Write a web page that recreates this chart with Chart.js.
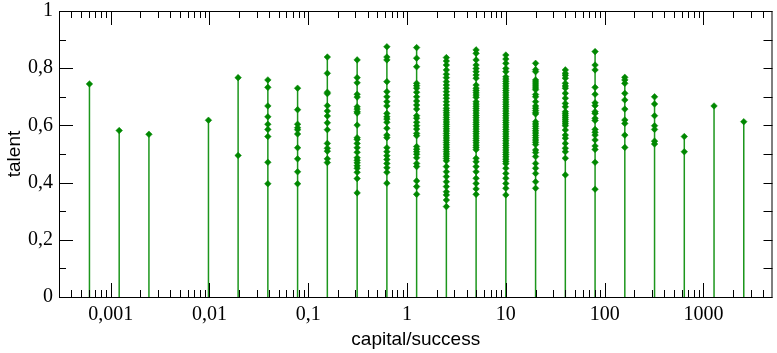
<!DOCTYPE html>
<html>
<head>
<meta charset="utf-8">
<script src="https://cdn.jsdelivr.net/npm/chart.js@4/dist/chart.umd.min.js"></script>
<style>
    body { margin: 0; background: #fff; }
</style>
</head>
<body>
<canvas id="talentChart" width="777" height="353"></canvas>
<script>
// capital values (doubling steps) where agents sit
const capital = [
    0.00061, 0.00122, 0.00244, 0.00977, 0.0195, 0.039, 0.078, 0.156,
    0.3125, 0.625, 1.25, 2.5, 5, 10, 20, 40, 80, 160, 320, 640, 1280, 2560,
]

// talent of each agent, one list per capital value
const talent = [
    [0.745],
    [0.582],
    [0.569],
    [0.618],
    [0.767, 0.495],
    [0.759, 0.733, 0.668, 0.630, 0.604, 0.586, 0.561, 0.471, 0.396],
    [0.730, 0.655, 0.604, 0.592, 0.585, 0.570, 0.522, 0.483, 0.438, 0.396],
    [0.839, 0.782, 0.716, 0.711, 0.669, 0.650, 0.633, 0.609, 0.585, 0.537,
        0.520, 0.510, 0.483, 0.470],
    [0.829, 0.767, 0.749, 0.709, 0.699, 0.665, 0.657, 0.648, 0.643, 0.601,
        0.557, 0.551, 0.537, 0.522, 0.506, 0.487, 0.478, 0.469, 0.459, 0.450,
        0.436, 0.414, 0.364],
    [0.875, 0.839, 0.829, 0.753, 0.718, 0.700, 0.683, 0.668, 0.642, 0.630,
        0.622, 0.611, 0.590, 0.566, 0.557, 0.522, 0.508, 0.494, 0.481, 0.467,
        0.452, 0.436, 0.398],
    [0.872, 0.835, 0.805, 0.747, 0.739, 0.730, 0.716, 0.700, 0.685, 0.671,
        0.657, 0.634, 0.625, 0.611, 0.599, 0.587, 0.572, 0.564, 0.526, 0.517,
        0.508, 0.499, 0.487, 0.467, 0.456, 0.406, 0.386, 0.359],
    [0.837, 0.825, 0.811, 0.794, 0.779, 0.767, 0.753, 0.741, 0.730, 0.718,
        0.706, 0.695, 0.683, 0.671, 0.660, 0.652, 0.644, 0.636, 0.628, 0.620,
        0.612, 0.604, 0.596, 0.588, 0.580, 0.572, 0.564, 0.556, 0.548, 0.540,
        0.532, 0.524, 0.516, 0.508, 0.500, 0.492, 0.484, 0.476, 0.456, 0.438,
        0.421, 0.403, 0.386, 0.368, 0.357, 0.339, 0.316],
    [0.864, 0.852, 0.829, 0.811, 0.799, 0.788, 0.776, 0.765, 0.741, 0.730,
        0.722, 0.714, 0.706, 0.698, 0.683, 0.675, 0.667, 0.659, 0.651, 0.643,
        0.635, 0.627, 0.619, 0.611, 0.603, 0.595, 0.587, 0.579, 0.571, 0.563,
        0.555, 0.547, 0.539, 0.531, 0.523, 0.515, 0.485, 0.473, 0.456, 0.438,
        0.415, 0.397, 0.378, 0.359],
    [0.846, 0.832, 0.817, 0.799, 0.788, 0.770, 0.762, 0.754, 0.746, 0.738,
        0.730, 0.722, 0.714, 0.706, 0.698, 0.690, 0.682, 0.674, 0.666, 0.658,
        0.650, 0.642, 0.634, 0.626, 0.618, 0.610, 0.602, 0.594, 0.586, 0.578,
        0.570, 0.562, 0.554, 0.546, 0.538, 0.530, 0.522, 0.514, 0.506, 0.498,
        0.490, 0.482, 0.474, 0.466, 0.450, 0.432, 0.415, 0.397, 0.380, 0.357],
    [0.817, 0.795, 0.788, 0.759, 0.752, 0.745, 0.738, 0.731, 0.725, 0.708,
        0.700, 0.683, 0.668, 0.660, 0.652, 0.645, 0.640, 0.613, 0.605, 0.597,
        0.589, 0.581, 0.573, 0.565, 0.557, 0.549, 0.541, 0.533, 0.514, 0.505,
        0.491, 0.467, 0.450, 0.432, 0.403, 0.380],
    [0.794, 0.782, 0.775, 0.765, 0.747, 0.738, 0.730, 0.712, 0.695, 0.677,
        0.665, 0.648, 0.641, 0.634, 0.627, 0.620, 0.613, 0.606, 0.599, 0.584,
        0.566, 0.555, 0.537, 0.520, 0.508, 0.485, 0.427],
    [0.858, 0.811, 0.794, 0.733, 0.709, 0.679, 0.669, 0.648, 0.642, 0.625,
        0.617, 0.586, 0.576, 0.566, 0.549, 0.528, 0.516, 0.471, 0.377],
    [0.768, 0.759, 0.747, 0.712, 0.689, 0.657, 0.619, 0.607, 0.566, 0.523],
    [0.700, 0.675, 0.634, 0.599, 0.586, 0.545, 0.535],
    [0.561, 0.508],
    [0.668],
    [0.613],
]

// axis ticks
const xTickValues = [0.001, 0.01, 0.1, 1, 10, 100, 1000]
const xTickLabels = ["0,001", "0,01", "0,1", "1", "10", "100", "1000"]
const yTickValues = [0, 0.2, 0.4, 0.6, 0.8, 1]
const yTickLabels = ["0", "0,2", "0,4", "0,6", "0,8", "1"]
const yMinorTicks = [0.1, 0.3, 0.5, 0.7, 0.9]

const X_MIN = 0.0003
const X_MAX = 5000

// minor ticks 2..9 in every decade, inside the axis range
const xMinorTicks = []
for (const d of [0.0001, 0.001, 0.01, 0.1, 1, 10, 100, 1000]) {
    for (let m = 2; m <= 9; m++) {
        const v = m * d
        if (v > X_MIN && v < X_MAX) xMinorTicks.push(v)
    }
}

// one point per agent
const points = []
capital.forEach((c, i) => {
    talent[i].forEach((t) => points.push({ x: c, y: t }))
})

// drop lines from 0 up to the highest talent at each capital
const stems = []
capital.forEach((c, i) => {
    stems.push({ x: c, y: 0 })
    stems.push({ x: c, y: Math.max(...talent[i]) })
    stems.push({ x: c, y: null })
})

// frame and inward ticks on all four sides
const frameTicks = {
    id: "frameTicks",
    afterDraw(chart) {
        const { ctx, chartArea: a, scales } = chart
        const xs = scales.x
        const ys = scales.y
        ctx.save()
        ctx.strokeStyle = "#000"
        ctx.lineWidth = 1
        ctx.beginPath()
        const line = (x1, y1, x2, y2) => {
            ctx.moveTo(x1, y1)
            ctx.lineTo(x2, y2)
        }
        xTickValues.forEach((v) => {
            const px = Math.round(xs.getPixelForValue(v)) + 0.5
            line(px, a.bottom, px, a.bottom - 14)
            line(px, a.top, px, a.top + 14)
        })
        xMinorTicks.forEach((v) => {
            const px = Math.round(xs.getPixelForValue(v)) + 0.5
            line(px, a.bottom, px, a.bottom - 7)
            line(px, a.top, px, a.top + 7)
        })
        yTickValues.forEach((v) => {
            const py = Math.round(ys.getPixelForValue(v)) + 0.5
            line(a.left, py, a.left + 14, py)
            line(a.right, py, a.right - 9, py)
        })
        yMinorTicks.forEach((v) => {
            const py = Math.round(ys.getPixelForValue(v)) + 0.5
            line(a.left, py, a.left + 7, py)
            line(a.right, py, a.right - 9, py)
        })
        ctx.stroke()
        ctx.strokeRect(a.left + 0.5, a.top + 0.5, a.right - a.left - 1, a.bottom - a.top)
        ctx.restore()
    },
}

const serif = { family: "'Liberation Serif', 'DejaVu Serif', serif", size: 20 }
const sans = { family: "'Liberation Sans', Arial, sans-serif", size: 19 }

new Chart(document.getElementById("talentChart"), {
    type: "scatter",
    data: {
        datasets: [
            {
                data: points,
                pointStyle: "rectRot",
                pointRadius: 3.3,
                backgroundColor: "#008800",
                borderColor: "#008800",
                borderWidth: 0.5,
                order: 0,
            },
            {
                data: stems,
                showLine: true,
                spanGaps: false,
                pointRadius: 0,
                borderColor: "#1c961c",
                borderWidth: 1.5,
                order: 1,
            },
        ],
    },
    options: {
        responsive: false,
        animation: false,
        layout: { padding: { top: 11, right: 2, left: 0, bottom: 0 } },
        plugins: {
            legend: { display: false },
            tooltip: { enabled: false },
        },
        scales: {
            x: {
                type: "logarithmic",
                min: X_MIN,
                max: X_MAX,
                grid: { display: false, drawTicks: false },
                border: { display: false },
                afterBuildTicks: (s) => {
                    s.ticks = xTickValues.map((v) => ({ value: v }))
                },
                afterFit: (s) => {
                    s.height = 56
                    s.paddingLeft = 0
                    s.paddingRight = 0
                },
                ticks: {
                    autoSkip: false,
                    maxRotation: 0,
                    padding: 6,
                    color: "#000",
                    font: serif,
                    callback: (v, i) => xTickLabels[i],
                },
                title: {
                    display: true,
                    text: "capital/success",
                    color: "#000",
                    font: sans,
                    padding: { top: 0, bottom: 2 },
                },
            },
            y: {
                min: 0,
                max: 1,
                grid: { display: false, drawTicks: false },
                border: { display: false },
                afterBuildTicks: (s) => {
                    s.ticks = yTickValues.map((v) => ({ value: v }))
                },
                afterFit: (s) => {
                    s.width = 59
                    s.paddingTop = 0
                    s.paddingBottom = 0
                },
                ticks: {
                    padding: 6,
                    color: "#000",
                    font: serif,
                    callback: (v, i) => yTickLabels[i],
                },
                title: {
                    display: true,
                    text: "talent",
                    color: "#000",
                    font: sans,
                    padding: { top: 3, bottom: 0 },
                },
            },
        },
    },
    plugins: [frameTicks],
})
</script>
</body>
</html>
